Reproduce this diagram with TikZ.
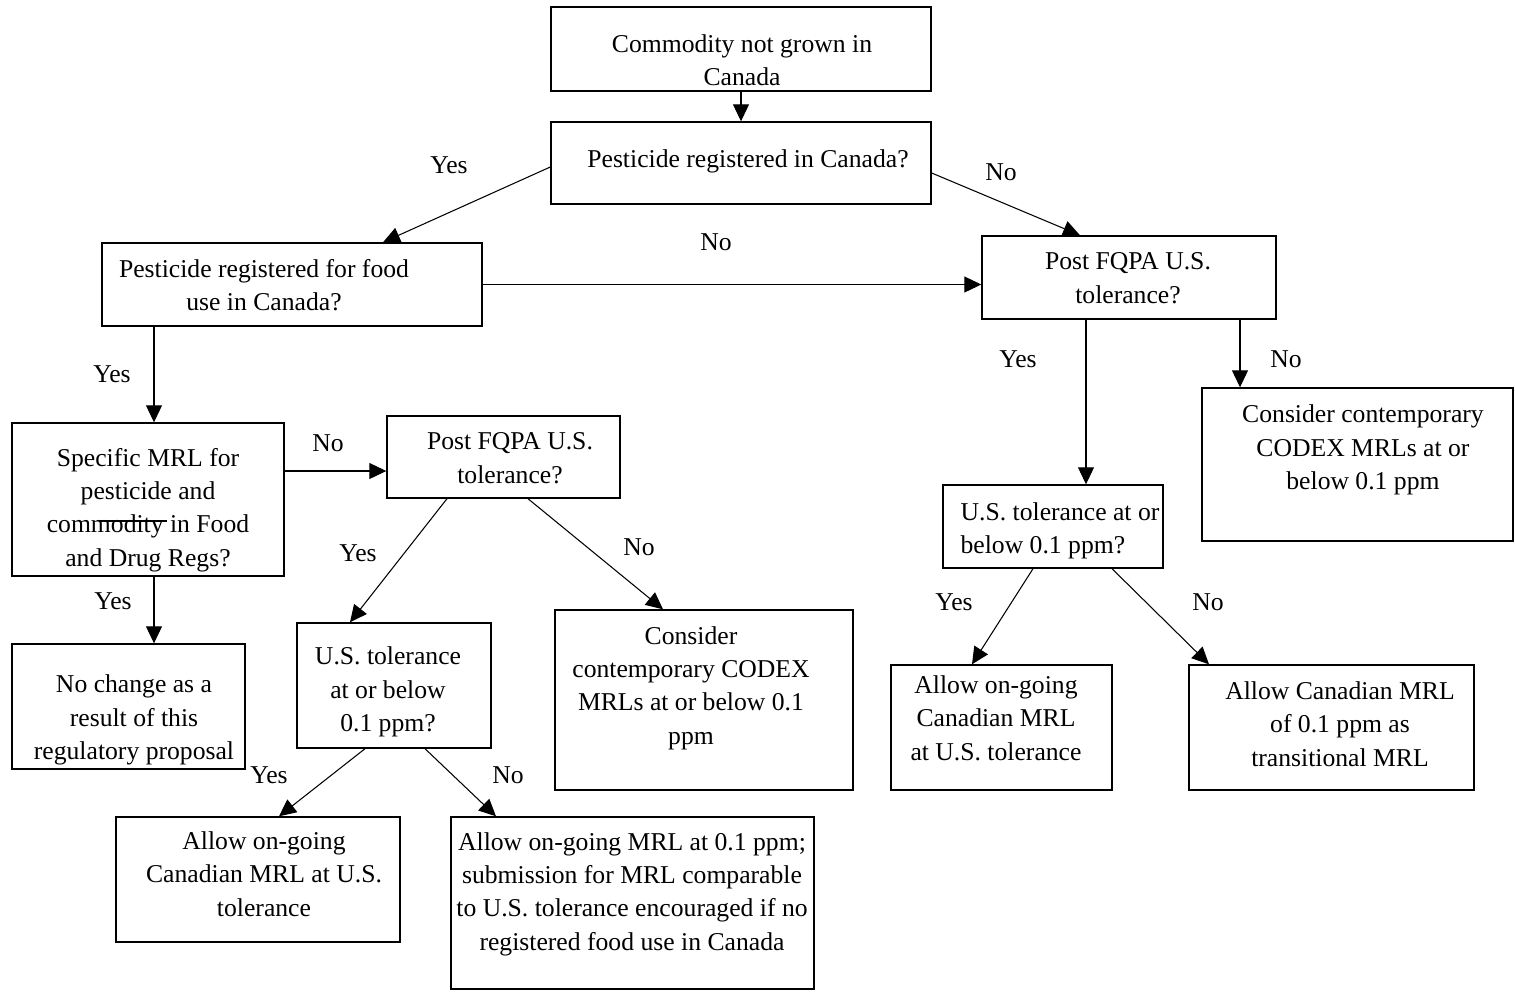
\documentclass[tikz,border=0pt]{standalone}
\usepackage{fontspec}
\setmainfont{Liberation Serif}
\usetikzlibrary{arrows.meta}

\begin{document}
\begin{tikzpicture}[
    box/.style={draw, line width=0.8pt, rectangle, inner sep=0pt},
    txt/.style={align=center, font=\fontsize{14.6}{19}\selectfont, inner sep=0pt},
    lbl/.style={font=\fontsize{14.6}{19}\selectfont, inner sep=0pt},
    arrow/.style={-{Triangle[width=0.32cm,length=0.34cm]}, line width=0.6pt}
]
\useasboundingbox (0,0) rectangle (30.3,-19.82);

% Top of the chart
\node[box, minimum width=7.6cm, minimum height=1.68cm] (a) at (14.82,-0.98) {};
\node[txt] (a-text) at (14.84,-1.2) {Commodity not grown in\\Canada};
\node[box, minimum width=7.6cm, minimum height=1.64cm] (b) at (14.82,-3.26) {};
\node[txt] (b-text) at (14.96,-3.22) {Pesticide registered in Canada?};

% Second level
\node[box, minimum width=7.6cm, minimum height=1.66cm] (c) at (5.84,-5.69) {};
\node[txt] (c-text) at (5.28,-5.70) {Pesticide registered for food\\use in Canada?};
\node[box, minimum width=5.88cm, minimum height=1.66cm] (d) at (22.58,-5.55) {};
\node[txt] (d-text) at (22.56,-5.56) {Post FQPA U.S.\\tolerance?};

% Right branch
\node[box, minimum width=6.22cm, minimum height=3.06cm] (e) at (27.15,-9.29) {};
\node[txt] (e-text) at (27.26,-9.00) {Consider contemporary\\CODEX MRLs at or\\below 0.1 ppm};
\node[box, minimum width=4.4cm, minimum height=1.66cm] (f) at (21.06,-10.53) {};
\node[txt, align=left] (f-text) at (21.20,-10.62) {U.S. tolerance at or\\below 0.1 ppm?};
\node[box, minimum width=4.42cm, minimum height=2.5cm] (g) at (20.03,-14.55) {};
\node[txt] (g-text) at (19.92,-14.36) {Allow on-going\\Canadian MRL\\at U.S. tolerance};
\node[box, minimum width=5.7cm, minimum height=2.5cm] (h) at (26.63,-14.55) {};
\node[txt] (h-text) at (26.80,-14.48) {Allow Canadian MRL\\of 0.1 ppm as\\transitional MRL};

% Left branch
\node[box, minimum width=5.44cm, minimum height=3.06cm] (i) at (2.96,-9.99) {};
\node[txt] (i-text) at (2.96,-10.20) {Specific MRL for\\pesticide and\\commodity in Food\\and Drug Regs?};
\node[box, minimum width=4.66cm, minimum height=2.5cm] (j) at (2.57,-14.13) {};
\node[txt] (j-text) at (2.68,-14.40) {No change as a\\result of this\\regulatory proposal};
\node[box, minimum width=4.66cm, minimum height=1.64cm] (k) at (10.07,-9.14) {};
\node[txt] (k-text) at (10.20,-9.16) {Post FQPA U.S.\\tolerance?};
\node[box, minimum width=3.88cm, minimum height=2.5cm] (l) at (7.88,-13.71) {};
\node[txt] (l-text) at (7.76,-13.84) {U.S. tolerance\\at or below\\0.1 ppm?};
\node[box, minimum width=5.96cm, minimum height=3.6cm] (m) at (14.08,-14.0) {};
\node[txt] (m-text) at (13.82,-13.76) {Consider\\contemporary CODEX\\MRLs at or below 0.1\\ppm};
\node[box, minimum width=5.68cm, minimum height=2.5cm] (n) at (5.16,-17.59) {};
\node[txt] (n-text) at (5.28,-17.48) {Allow on-going\\Canadian MRL at U.S.\\tolerance};
\node[box, minimum width=7.26cm, minimum height=3.44cm] (o) at (12.65,-18.06) {};
\node[txt] (o-text) at (12.64,-17.88) {Allow on-going MRL at 0.1 ppm;\\submission for MRL comparable\\to U.S. tolerance encouraged if no\\registered food use in Canada};

% stray stroke over "commodity"
\draw[line width=0.6pt] (2.0,-10.42) -- (3.34,-10.42);

% Yes / No labels
\node[lbl] (yes-bc) at (8.98,-3.30) {Yes};
\node[lbl] (no-bd) at (20.02,-3.44) {No};
\node[lbl] (no-cd) at (14.32,-4.84) {No};
\node[lbl] (yes-df) at (20.36,-7.18) {Yes};
\node[lbl] (no-de) at (25.72,-7.18) {No};
\node[lbl] (yes-ci) at (2.24,-7.48) {Yes};
\node[lbl] (no-ik) at (6.56,-8.86) {No};
\node[lbl] (yes-ij) at (2.26,-12.02) {Yes};
\node[lbl] (yes-kl) at (7.16,-11.06) {Yes};
\node[lbl] (no-km) at (12.78,-10.94) {No};
\node[lbl] (yes-fg) at (19.08,-12.04) {Yes};
\node[lbl] (no-fh) at (24.16,-12.04) {No};
\node[lbl] (yes-ln) at (5.38,-15.50) {Yes};
\node[lbl] (no-lo) at (10.16,-15.50) {No};

% Connectors
\draw[arrow] (a.south) -- (b.north);
\draw[arrow] ([yshift=-0.08cm]b.west) -- ([xshift=1.82cm]c.north);
\draw[arrow] ([yshift=-0.2cm]b.east) -- ([xshift=-0.98cm]d.north);
\draw[arrow] (c.east) -- (c.east -| d.west);
\draw[arrow] ([xshift=-0.86cm]d.south) -- ([xshift=-0.86cm]d.south |- f.north);
\draw[arrow] ([xshift=2.22cm]d.south) -- ([xshift=2.22cm]d.south |- e.north);
\draw[arrow] ([xshift=-2.76cm]c.south) -- ([xshift=-2.76cm]c.south |- i.north);
\draw[arrow] ([xshift=0.12cm]i.south) -- ([xshift=0.12cm]i.south |- j.north);
\draw[arrow] ([yshift=0.57cm]i.east) -- ([yshift=0.57cm]i.east -| k.west);
\draw[arrow] ([xshift=-1.13cm]k.south) -- ([xshift=-0.88cm]l.north);
\draw[arrow] ([xshift=0.49cm]k.south) -- ([xshift=-0.82cm]m.north);
\draw[arrow] ([xshift=-0.4cm]f.south) -- ([xshift=-0.59cm]g.north);
\draw[arrow] ([xshift=1.18cm]f.south) -- ([xshift=-2.45cm]h.north);
\draw[arrow] ([xshift=-0.58cm]l.south) -- ([xshift=0.42cm]n.north);
\draw[arrow] ([xshift=0.62cm]l.south) -- ([xshift=-2.73cm]o.north);

\end{tikzpicture}
\end{document}
